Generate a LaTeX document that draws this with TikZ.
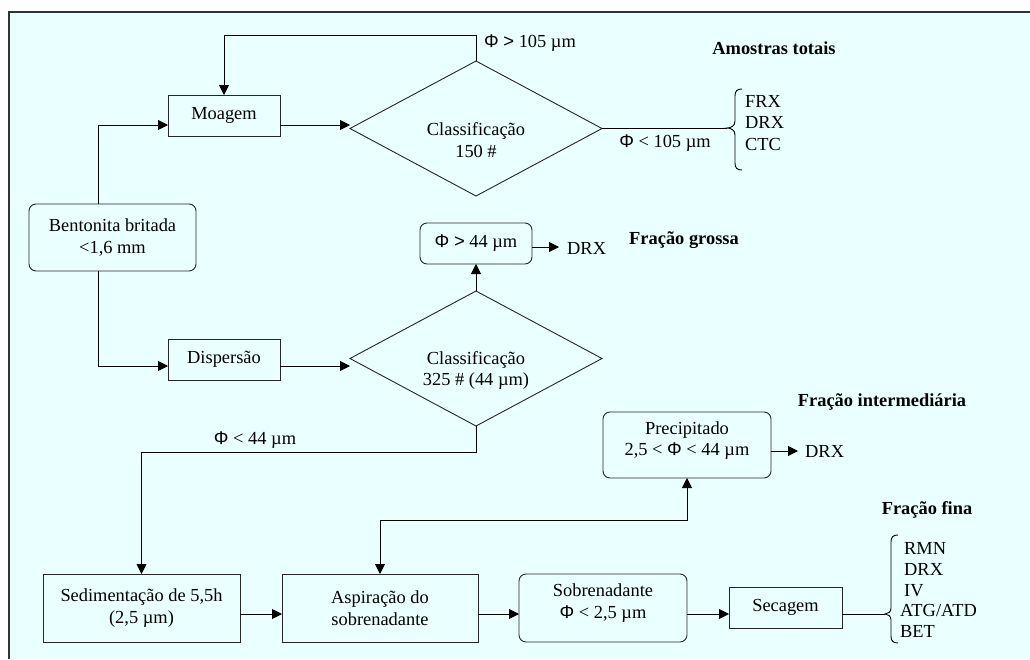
\documentclass[tikz,border=0pt]{standalone}
\usepackage{fontspec}
\setmainfont{Liberation Serif}
\newfontfamily\phifont{Liberation Sans}
\usetikzlibrary{arrows.meta,shapes.geometric}
\newcommand\PHI{{\phifont Φ}}
\definecolor{bgc}{RGB}{234,255,255}
\begin{document}
\begin{tikzpicture}[x=1pt,y=-1pt,
  font=\fontsize{18.4}{21.5}\selectfont,
  box/.style={draw=black!85, fill=bgc, line width=0.9pt, inner sep=0pt, outer sep=0pt, align=center},
  rbox/.style={box, rounded corners=7pt},
  dia/.style={draw=black!85, fill=bgc, diamond, aspect=1.867, minimum width=252pt, minimum height=135pt, inner sep=0pt, outer sep=0pt, line width=0.9pt},
  lbl/.style={inner sep=1pt},
  head/.style={font=\fontsize{18.4}{21.5}\selectfont\bfseries, inner sep=1pt},
  ln/.style={line width=0.9pt},
  arr/.style={ln, -{Triangle[length=10pt,width=10pt]}},
  arrb/.style={ln, {Triangle[length=10pt,width=10pt]}-{Triangle[length=10pt,width=10pt]}}]
\useasboundingbox (0,0) rectangle (1030,659);
\fill[white] (0,0) rectangle (1030,659);
\fill[bgc] (9,12) rectangle (1030,659);
\draw[line width=1.5pt, black!80] (9,659) -- (9,12) -- (1030,12);

% nodes
\node[rbox, minimum width=167pt, minimum height=67pt] (bent) at (112.5,237.5) {Bentonita britada\\<1,6 mm};
\node[box, minimum width=112pt, minimum height=41pt] (moag) at (224,115.5) {Moagem};
\node[dia] (d1) at (476,128.5) {};
\node[align=center, inner sep=0pt] (t1) at (476,140) {Classificação\\150 \#};
\node[rbox, minimum width=112pt, minimum height=41pt] (gros) at (476,243.5) {\PHI\ {\phifont >} 44 µm};
\node[box, minimum width=112pt, minimum height=41pt] (disp) at (224,359.5) {Dispersão};
\node[dia] (d2) at (476,358.5) {};
\node[align=center, inner sep=0pt] (t2) at (476,370.5) {Classificação\\325 \# (44 µm)};
\node[box, minimum width=197pt, minimum height=68pt] (sed) at (141.5,608) {Sedimentação de 5,5h\\(2,5 µm)};
\node[box, minimum width=196pt, minimum height=68pt] (asp) at (380,608) {Aspiração do\\sobrenadante};
\node[rbox, minimum width=168pt, minimum height=68pt, text depth=14pt] (sob) at (603,608) {Sobrenadante\\\PHI\ < 2,5 µm};
\node[box, minimum width=113pt, minimum height=41pt] (sec) at (785.5,607.5) {Secagem};
\node[rbox, minimum width=168pt, minimum height=66pt, text depth=13pt] (prec) at (687,445) {Precipitado\\2,5 < \PHI\ < 44 µm};

% labels
\node[lbl] (l105a) at (530,43) {\PHI\ {\phifont >} 105 µm};
\node[lbl] (l105b) at (665,143) {\PHI\ < 105 µm};
\node[lbl] (l44) at (255,440) {\PHI\ < 44 µm};
\node[lbl, anchor=west, align=left, inner sep=0pt] (res1) at (745,123) {FRX\\DRX\\CTC};
\node[anchor=west, inner sep=0pt] (drx1) at (567,248) {DRX};
\node[anchor=west, inner sep=0pt] (drx2) at (805,451) {DRX};
\node[anchor=west, align=left, inner sep=0pt, font=\fontsize{18.4}{20.8}\selectfont] (res2) at (900,590) {\hspace*{4pt}RMN\\\hspace*{4pt}DRX\\\hspace*{4pt}IV\\ATG/ATD\\BET};
\node[head] (h1) at (774,48) {Amostras totais};
\node[head] (h2) at (684,240) {Fração grossa};
\node[head] (h3) at (882,402) {Fração intermediária};
\node[head] (h4) at (927,510) {Fração fina};

% braces
\coordinate (b1) at (727,128);
\coordinate (b2) at (885,614);
\draw[ln] (742,89) .. controls (737,89) and (735,91) .. (735,96) -- (735,121)
  .. controls (735,126) and (731,128) .. (b1)
  .. controls (731,128) and (735,130) .. (735,135) -- (735,163)
  .. controls (735,168) and (737,170) .. (742,170);
\draw[ln] (898,535) .. controls (893,535) and (891,537) .. (891,542) -- (891,608)
  .. controls (891,612) and (888,614) .. (b2)
  .. controls (888,614) and (891,616) .. (891,620) -- (891,636)
  .. controls (891,641) and (893,643) .. (898,643);

% connectors
\draw[arr] ([xshift=-14.5pt]bent.north) |- ([yshift=-9.5pt]moag.west);
\draw[arr] ([yshift=-9.5pt]moag.east) -- ([yshift=-9.5pt]moag.east -| d1.west);
\draw[arr] (d1.north) -- ++(0,-26) -| (moag.north);
\draw[ln] (d1.east) -- (d1.east -| b1);
\draw[arr] (d2.north) -- (gros.south);
\draw[arr, shorten >=8pt] ([yshift=-3.5pt]gros.east) -- ([yshift=-3.5pt]gros.east -| drx1.west);
\draw[arr] ([xshift=-14.5pt]bent.south) |- ([yshift=-6.5pt]disp.west);
\draw[arr] ([yshift=-6.5pt]disp.east) -- ([yshift=-6.5pt]disp.east -| d2.west);
\draw[arr] (d2.south) -- ++(0,26) -| (sed.north);
\draw[arr] ([yshift=-6pt]sed.east) -- ([yshift=-6pt]asp.west);
\draw[arr] ([yshift=-6pt]asp.east) -- ([yshift=-6pt]sob.west);
\draw[arr] ([yshift=-6pt]sob.east) -- ([yshift=-6pt]sob.east -| sec.west);
\draw[ln] (sec.east |- b2) -- (b2);
\draw[arr, shorten >=7pt] ([yshift=-6pt]prec.east) -- ([yshift=-6pt]prec.east -| drx2.west);
\draw[arrb] (asp.north) -- ++(0,-54) -| (prec.south);
\end{tikzpicture}
\end{document}
